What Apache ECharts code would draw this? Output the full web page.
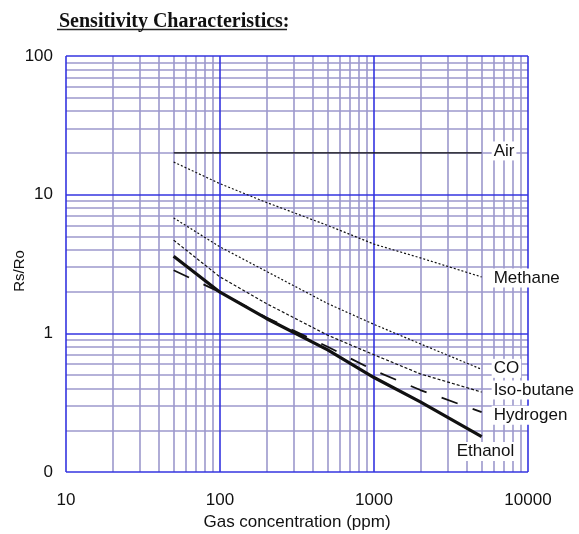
<!DOCTYPE html>
<html>
<head>
<meta charset="utf-8">
<script src="https://cdn.jsdelivr.net/npm/echarts@6/dist/echarts.min.js"></script>
<style>
  html, body { margin: 0; padding: 0; background: #ffffff; }
  #chart { width: 579px; height: 534px; }
</style>
</head>
<body>
<div id="chart"></div>
<script>
// Gas concentrations (ppm) at which the sensor response was read
const ppm = [50, 100, 200, 500, 1000, 2000, 5000];
const airPpm = [50, 5000];

// Rs/Ro response for each gas
const air = [20, 20];
const methane = [17.2, 12.0, 8.8, 6.0, 4.4, 3.5, 2.55];
const co = [6.8, 4.2, 2.8, 1.64, 1.16, 0.84, 0.55];
const isoButane = [4.7, 2.55, 1.64, 0.97, 0.70, 0.51, 0.377];
const hydrogen = [2.85, 1.98, 1.3, 0.8, 0.54, 0.39, 0.27];
const ethanol = [3.6, 1.98, 1.28, 0.76, 0.48, 0.32, 0.18];

// Log-paper grid lines
const xMajor = [10, 100, 1000, 10000];
const xMinor = [20, 30, 40, 50, 60, 70, 80, 90,
                200, 300, 400, 500, 600, 700, 800, 900,
                2000, 3000, 4000, 5000, 6000, 7000, 8000, 9000];
const yMajor = [0.1, 1, 10, 100];
const yMinor = [0.2, 0.3, 0.4, 0.5, 0.6, 0.7, 0.8, 0.9,
                2, 3, 4, 5, 6, 7, 8, 9,
                20, 30, 40, 50, 60, 70, 80, 90];

const SANS = '"Liberation Sans", Arial, sans-serif';

function pairs(xs, ys) { return xs.map((x, i) => [x, ys[i]]); }

function gridSeries(xs, ys, color, width, z) {
  return {
    type: 'line',
    data: [],
    silent: true,
    z: z,
    markLine: {
      silent: true,
      z: z,
      animation: false,
      symbol: ['none', 'none'],
      label: { show: false },
      emphasis: { disabled: true },
      lineStyle: { color: color, width: width, type: 'solid' },
      data: xs.map(v => ({ xAxis: v })).concat(ys.map(v => ({ yAxis: v })))
    }
  };
}

function gasSeries(name, xs, ys, lineStyle, labelOffset) {
  return {
    name: name,
    type: 'line',
    z: 5,
    data: pairs(xs, ys),
    smooth: false,
    showSymbol: false,
    symbol: 'none',
    lineStyle: Object.assign({ color: '#111111', join: 'round' }, lineStyle),
    endLabel: {
      show: true,
      formatter: name,
      distance: 10,
      offset: labelOffset,
      color: '#111111',
      fontFamily: SANS,
      fontSize: 17,
      backgroundColor: '#ffffff',
      padding: [1, 2]
    }
  };
}

const chart = echarts.init(document.getElementById('chart'), null, { renderer: 'canvas' });

chart.setOption({
  animation: false,
  backgroundColor: '#ffffff',
  title: {
    text: 'Sensitivity Characteristics:',
    left: 54,
    top: 7,
    textStyle: {
      fontFamily: '"Liberation Serif", "Times New Roman", serif',
      fontWeight: 'bold',
      fontSize: 20,
      color: '#111111'
    }
  },
  graphic: [{
    type: 'line',
    shape: { x1: 57, y1: 29.5, x2: 287, y2: 29.5 },
    style: { stroke: '#222222', lineWidth: 1.5 }
  }],
  grid: {
    left: 66,
    right: 51,
    top: 56,
    bottom: 62,
    containLabel: false,
    outerBoundsMode: 'none'
  },
  xAxis: {
    type: 'log',
    logBase: 10,
    min: 10,
    max: 10000,
    name: 'Gas concentration (ppm)',
    nameLocation: 'middle',
    nameGap: 42,
    nameMoveOverlap: false,
    nameTextStyle: { fontFamily: SANS, fontSize: 17, color: '#111111' },
    axisLine: { show: false },
    axisTick: { show: false },
    splitLine: { show: false },
    axisLabel: {
      margin: 20,
      fontFamily: SANS,
      fontSize: 17,
      color: '#111111',
      formatter: v => String(Math.round(v))
    }
  },
  yAxis: {
    type: 'log',
    logBase: 10,
    min: 0.1,
    max: 100,
    name: 'Rs/Ro',
    nameLocation: 'middle',
    nameGap: 39,
    nameRotate: 90,
    nameMoveOverlap: false,
    nameTextStyle: { fontFamily: SANS, fontSize: 15, color: '#111111', padding: [0, 14, 0, 0] },
    axisLine: { show: false },
    axisTick: { show: false },
    splitLine: { show: false },
    axisLabel: {
      margin: 13,
      fontFamily: SANS,
      fontSize: 17,
      color: '#111111',
      formatter: v => (v < 1 ? '0' : String(Math.round(v)))
    }
  },
  series: [
    gridSeries(xMinor, yMinor, '#9c98cc', 1.6, 1),
    gridSeries(xMajor, yMajor, '#3434e0', 1.6, 2),
    gasSeries('Air', airPpm, air, { width: 1.2, type: 'solid' }, [0, -2]),
    gasSeries('Methane', ppm, methane, { width: 1.2, type: [2, 2] }, [0, 1]),
    gasSeries('CO', ppm, co, { width: 1.2, type: [2, 2] }, [0, -1]),
    gasSeries('Iso-butane', ppm, isoButane, { width: 1.2, type: [3, 2] }, [0, -2]),
    gasSeries('Hydrogen', ppm, hydrogen, { width: 1.8, type: [17, 16] }, [0, 3]),
    gasSeries('Ethanol', ppm, ethanol, { width: 3.2, type: 'solid' }, [-37, 15])
  ]
});
</script>
</body>
</html>
